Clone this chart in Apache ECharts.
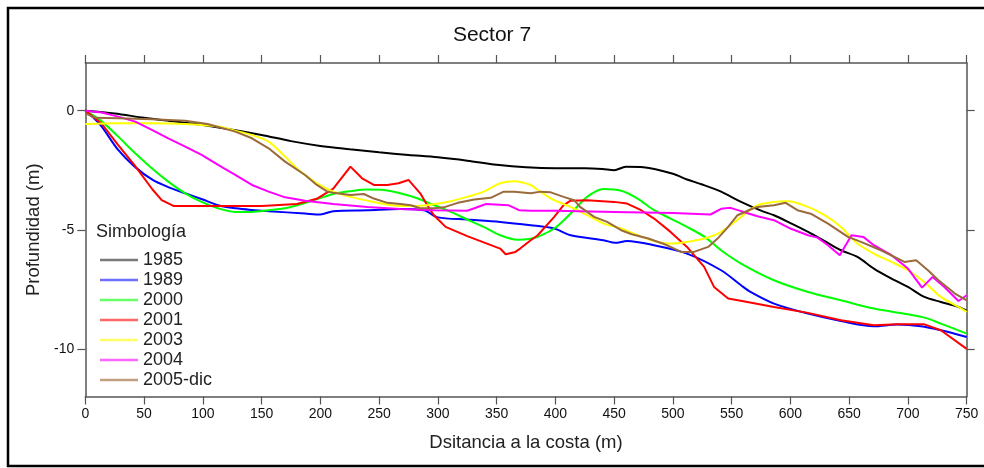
<!DOCTYPE html>
<html>
<head>
<meta charset="utf-8">
<script src="https://cdn.jsdelivr.net/npm/echarts@6/dist/echarts.min.js"></script>
<style>
html,body{margin:0;padding:0;background:#fff;}
#chart{width:984px;height:468px;}
</style>
</head>
<body>
<div id="chart"></div>
<script>
// ---- Data ----
const seriesNames = ['1985', '1989', '2000', '2001', '2003', '2004', '2005-dic'];
const xTicks = [0, 50, 100, 150, 200, 250, 300, 350, 400, 450, 500, 550, 600, 650, 700, 750];
const yTicks = [-10, -5, 0];

const x1985 = [0, 25, 50, 75, 100, 125, 150, 175, 200, 225, 250, 275, 300, 325, 350, 375, 400, 425, 440, 450, 460, 475, 500, 512, 525, 541, 558, 575, 586, 600, 615, 630, 643, 657, 671, 686, 700, 714, 728, 743, 750];
const y1985 = [0, -0.12, -0.3, -0.45, -0.6, -0.8, -1.02, -1.28, -1.48, -1.62, -1.75, -1.86, -1.96, -2.1, -2.27, -2.38, -2.42, -2.42, -2.45, -2.5, -2.36, -2.38, -2.65, -2.89, -3.1, -3.4, -3.83, -4.2, -4.39, -4.72, -5.09, -5.5, -5.86, -6.14, -6.63, -7.05, -7.4, -7.82, -8.03, -8.24, -8.4];

const x1989 = [0, 7, 14, 28, 42, 57, 71, 85, 100, 113, 128, 142, 156, 187, 200, 211, 240, 268, 288, 300, 325, 353, 379, 399, 413, 441, 451, 461, 484, 512, 541, 558, 566, 586, 615, 643, 671, 691, 711, 728, 750];
const y1989 = [0, -0.3, -0.67, -1.65, -2.35, -2.9, -3.22, -3.47, -3.73, -3.97, -4.1, -4.17, -4.22, -4.32, -4.36, -4.22, -4.18, -4.13, -4.18, -4.48, -4.57, -4.67, -4.81, -4.95, -5.23, -5.44, -5.55, -5.47, -5.65, -6.0, -6.7, -7.33, -7.61, -8.1, -8.52, -8.83, -9.05, -8.98, -9.05, -9.22, -9.5];

const x2000 = [0, 14, 28, 42.5, 56.6, 70.6, 85, 99, 113, 127.6, 141.8, 156, 170, 187, 211, 225.6, 240, 254, 268, 283, 297, 311, 325, 339, 353, 368, 379, 385, 399, 413, 427, 441, 456, 470, 484, 498, 512, 527, 541, 558, 586, 615, 643, 671, 700, 717, 728, 750];
const y2000 = [0, -0.45, -1.09, -1.79, -2.42, -2.98, -3.47, -3.83, -4.1, -4.25, -4.25, -4.18, -4.1, -3.88, -3.5, -3.38, -3.31, -3.33, -3.47, -3.69, -3.97, -4.25, -4.57, -4.88, -5.23, -5.42, -5.38, -5.3, -4.95, -4.32, -3.62, -3.29, -3.36, -3.69, -4.18, -4.53, -4.88, -5.3, -5.86, -6.42, -7.12, -7.61, -7.96, -8.31, -8.55, -8.73, -8.94, -9.36];

const x2001 = [0, 14, 28, 42, 57, 65, 75, 100, 150, 180, 197, 211, 225.6, 235.5, 245.5, 257, 266.5, 275, 285, 291, 296.6, 306.6, 325, 353, 357.7, 366, 370, 379, 385, 399, 407, 413, 427, 450, 461, 473, 484, 498, 512, 526.6, 535, 547, 560, 586, 615, 643, 671, 691, 714, 728, 750];
const y2001 = [0, -0.55, -1.45, -2.3, -3.3, -3.76, -4.0, -4.0, -4.0, -3.92, -3.7, -3.27, -2.35, -2.84, -3.12, -3.12, -3.05, -2.91, -3.47, -3.97, -4.39, -4.88, -5.27, -5.79, -6.03, -5.93, -5.79, -5.44, -5.23, -4.46, -3.97, -3.78, -3.76, -3.83, -3.9, -4.18, -4.53, -5.09, -5.72, -6.56, -7.4, -7.89, -8.0, -8.24, -8.49, -8.8, -9.01, -8.97, -8.97, -9.22, -10.0];

const x2003 = [0, 28, 56.6, 85, 113, 127.6, 141.8, 156, 170, 181.5, 187, 197, 211, 225.6, 240, 254, 268, 283, 297, 311, 325, 339, 353, 365, 379, 385, 399, 413, 427, 441, 456, 470, 484, 498, 512, 527, 541, 558, 572, 586, 598, 615, 629, 643, 657, 671, 686, 700, 714, 728, 743, 750];
const y2003 = [-0.56, -0.53, -0.53, -0.56, -0.67, -0.84, -1.02, -1.3, -1.93, -2.49, -2.7, -3.05, -3.4, -3.62, -3.78, -3.92, -4.0, -4.0, -3.92, -3.8, -3.62, -3.4, -3.05, -2.96, -3.12, -3.33, -3.76, -4.04, -4.39, -4.74, -4.95, -5.23, -5.47, -5.58, -5.51, -5.37, -5.09, -4.46, -3.97, -3.83, -3.8, -4.04, -4.39, -4.88, -5.58, -6.0, -6.35, -6.7, -7.19, -7.82, -8.24, -8.45];

const x2004 = [0, 14, 28, 42.5, 56.6, 70.6, 85, 99, 113, 127.6, 141.8, 156, 170, 187, 211, 240, 268, 297, 325, 331, 341, 360, 369, 379, 400, 450, 500, 532, 541, 549, 558, 572, 586, 600, 615, 623, 632, 642, 652, 662, 671, 686, 700, 712, 721, 731, 743, 750];
const y2004 = [0, -0.08, -0.25, -0.46, -0.81, -1.16, -1.51, -1.86, -2.28, -2.7, -3.12, -3.4, -3.64, -3.78, -3.92, -4.04, -4.13, -4.18, -4.2, -4.1, -3.92, -3.97, -4.18, -4.2, -4.2, -4.25, -4.3, -4.36, -4.12, -4.08, -4.22, -4.43, -4.6, -4.95, -5.23, -5.33, -5.65, -6.07, -5.23, -5.3, -5.65, -6.07, -6.63, -7.43, -6.98, -7.4, -7.99, -7.75];

const x2005 = [0, 8, 28, 56.6, 85, 104, 127.6, 141.8, 156, 170, 187, 197, 206, 211, 225.6, 237, 245.5, 257, 268, 277, 285, 297, 305, 317, 331, 345, 356, 365, 379, 387.5, 396, 407, 416, 421, 433, 444, 456, 465, 479, 493, 507, 518, 530, 538, 547, 555, 566, 572, 586, 596, 606, 618, 632, 649, 660, 677, 697, 707, 717, 726, 740, 750];
const y2005 = [-0.1, -0.3, -0.32, -0.36, -0.42, -0.56, -0.88, -1.16, -1.58, -2.14, -2.7, -3.12, -3.4, -3.45, -3.54, -3.5, -3.69, -3.87, -3.92, -3.97, -4.1, -4.1, -4.06, -3.87, -3.73, -3.66, -3.4, -3.4, -3.47, -3.4, -3.43, -3.62, -3.76, -4.04, -4.46, -4.67, -5.02, -5.19, -5.37, -5.61, -5.93, -5.93, -5.72, -5.37, -4.88, -4.39, -4.15, -4.04, -3.97, -3.87, -4.18, -4.34, -4.74, -5.3, -5.51, -5.86, -6.35, -6.28, -6.7, -7.12, -7.68, -7.96];

const seriesX = [x1985, x1989, x2000, x2001, x2003, x2004, x2005];
const seriesY = [y1985, y1989, y2000, y2001, y2003, y2004, y2005];
const colors = ['#000000', '#0000ff', '#00ff00', '#ff0000', '#ffff00', '#ff00ff', '#9b6a3c'];
const legendColors = ['#7a7a7a', '#6f6fff', '#66ff66', '#ff6666', '#ffff66', '#ff66ff', '#c0a080'];
const smoothFlags = [0.3, 0.3, 0.3, 0, 0.3, 0, 0];

const FONT = '"Liberation Sans", Arial, sans-serif';
const AX = '#555555';

const chart = echarts.init(document.getElementById('chart'), null, {renderer: 'canvas'});

const series = seriesNames.map((n, i) => ({
  name: n,
  type: 'line',
  xAxisIndex: 0,
  yAxisIndex: 0,
  data: seriesX[i].map((x, k) => [x, seriesY[i][k]]),
  symbol: 'none',
  showSymbol: false,
  smooth: smoothFlags[i],
  lineStyle: {color: colors[i], width: 2},
  itemStyle: {color: colors[i]},
  z: 2
}));

const option = {
  backgroundColor: '#ffffff',
  animation: false,
  title: [
    {text: 'Sector 7', left: 'center', top: 20, textStyle: {fontFamily: FONT, fontSize: 21, fontWeight: 'normal', color: '#111'}},
    {text: 'Simbología', left: 91, top: 218, textStyle: {fontFamily: FONT, fontSize: 18, fontWeight: 'normal', color: '#222'}}
  ],
  legend: {
    orient: 'vertical',
    left: 95,
    top: 246,
    itemWidth: 38,
    itemHeight: 2.5,
    itemGap: 2,
    icon: 'rect',
    data: seriesNames.map((n, i) => ({name: n, icon: 'rect', itemStyle: {color: legendColors[i]}})),
    textStyle: {fontFamily: FONT, fontSize: 18, lineHeight: 18, color: '#222'}
  },
  grid: {left: 85.3, right: 17.3, top: 63, bottom: 71.5, containLabel: false},
  xAxis: [
    {
      type: 'value', position: 'bottom', min: 0, max: 750, interval: 50,
      name: 'Dsitancia a la costa (m)', nameLocation: 'middle', nameGap: 37,
      nameTextStyle: {fontFamily: FONT, fontSize: 18.5, color: '#222'},
      axisLine: {show: true, onZero: false, lineStyle: {color: AX, width: 1.5}},
      axisTick: {show: true, inside: false, length: 8, lineStyle: {color: AX, width: 1.2}},
      axisLabel: {margin: 11, fontFamily: FONT, fontSize: 14, color: '#111'},
      splitLine: {show: false}
    },
    {
      type: 'value', position: 'top', min: 0, max: 750, interval: 50,
      axisLine: {show: true, onZero: false, lineStyle: {color: AX, width: 1.5}},
      axisTick: {show: true, inside: false, length: 8, lineStyle: {color: AX, width: 1.2}},
      axisLabel: {show: false},
      splitLine: {show: false}
    }
  ],
  yAxis: [
    {
      type: 'value', position: 'left', min: -12, max: 2,
      name: 'Profundidad (m)', nameLocation: 'middle', nameGap: 42, nameRotate: 90,
      nameTextStyle: {fontFamily: FONT, fontSize: 18.5, color: '#222'},
      axisLine: {show: true, onZero: false, lineStyle: {color: AX, width: 1.5}},
      axisTick: {show: true, inside: false, length: 8, customValues: yTicks, lineStyle: {color: AX, width: 1.2}},
      axisLabel: {margin: 11, fontFamily: FONT, fontSize: 14, color: '#111', customValues: yTicks},
      splitLine: {show: false}
    },
    {
      type: 'value', position: 'right', min: -12, max: 2,
      axisLine: {show: true, onZero: false, lineStyle: {color: AX, width: 1.5}},
      axisTick: {show: true, inside: false, length: 8, customValues: yTicks, lineStyle: {color: AX, width: 1.2}},
      axisLabel: {show: false},
      splitLine: {show: false}
    }
  ],
  graphic: [
    {type: 'rect', shape: {x: 8, y: 8, width: 1000, height: 458}, style: {fill: null, stroke: '#000', lineWidth: 2.5}, silent: true, z: 100}
  ],
  series: series
};
chart.setOption(option);
</script>
</body>
</html>
